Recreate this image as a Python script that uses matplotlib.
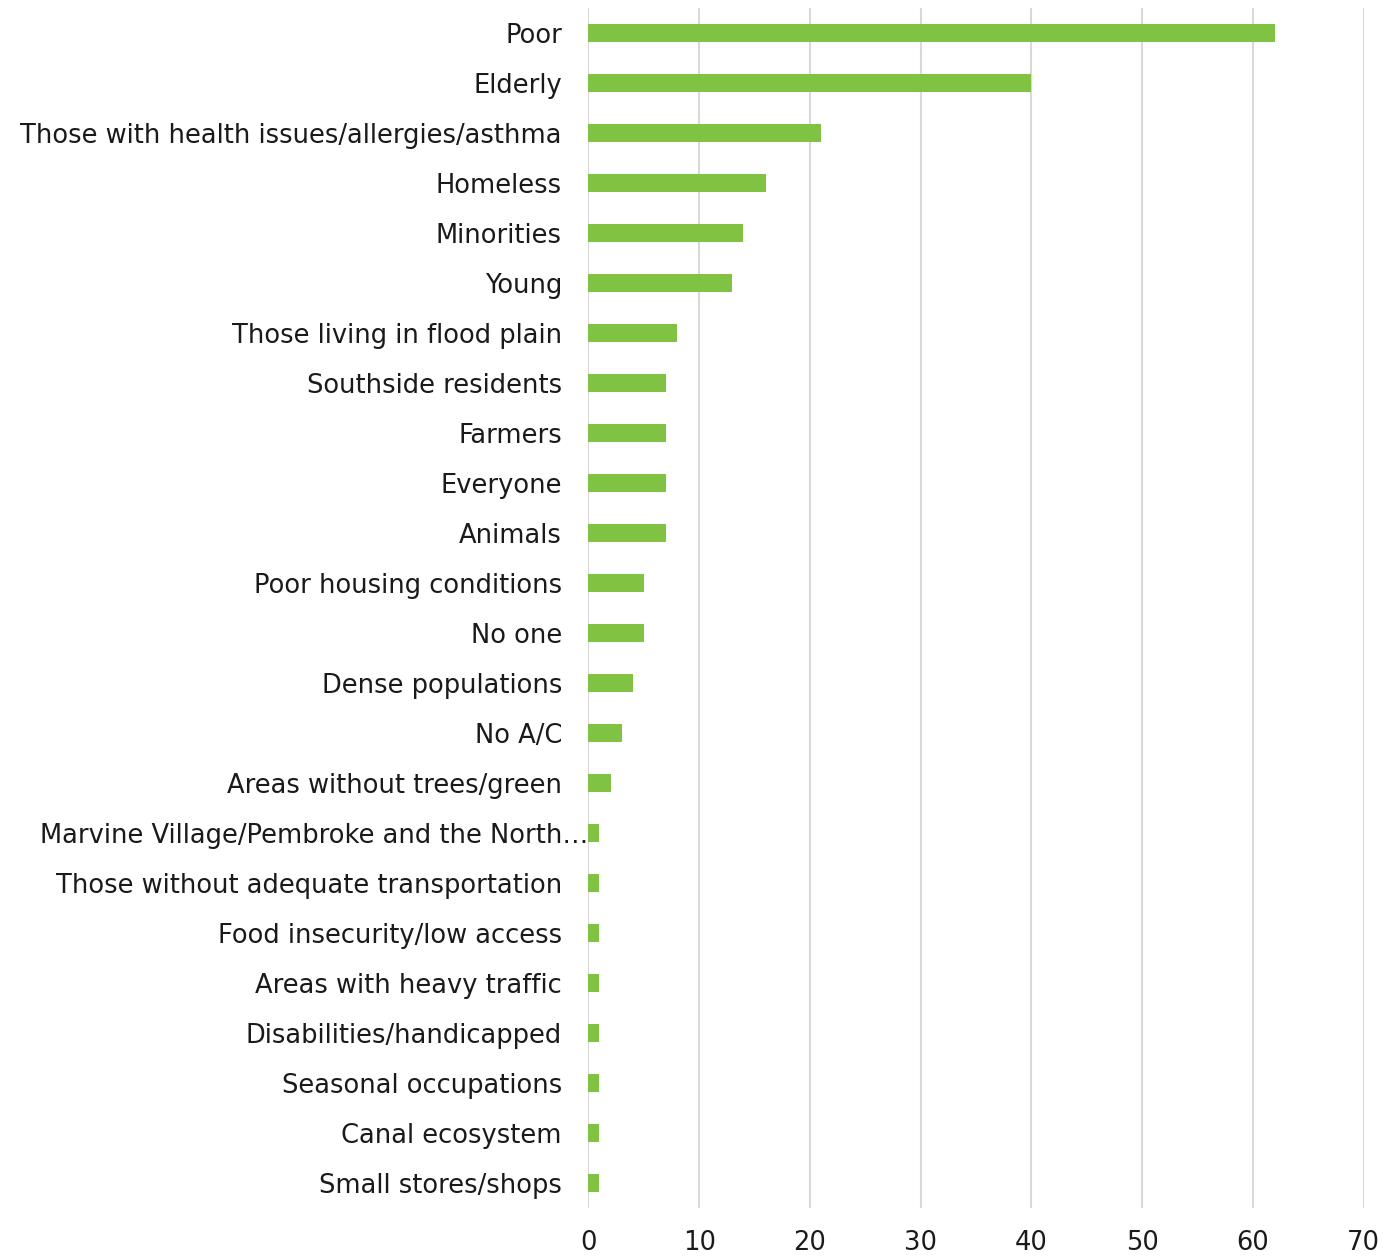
''' horizontal bar chart of who is most affected '''
import matplotlib.pyplot as plt

categories = ['Poor', 'Elderly', 'Those with health issues/allergies/asthma',
              'Homeless', 'Minorities', 'Young', 'Those living in flood plain',
              'Southside residents', 'Farmers', 'Everyone', 'Animals',
              'Poor housing conditions', 'No one', 'Dense populations',
              'No A/C', 'Areas without trees/green',
              'Marvine Village/Pembroke and the North\u2026',
              'Those without adequate transportation',
              'Food insecurity/low access', 'Areas with heavy traffic',
              'Disabilities/handicapped', 'Seasonal occupations',
              'Canal ecosystem', 'Small stores/shops']
counts = [62, 40, 21, 16, 14, 13, 8, 7, 7, 7, 7, 5, 5, 4, 3, 2,
          1, 1, 1, 1, 1, 1, 1, 1]
x_ticks = [0, 10, 20, 30, 40, 50, 60, 70]

plt.rcParams['font.family'] = ['DejaVu Sans']

fig = plt.figure(figsize=(13.86, 12.57), dpi=100)
ax = fig.add_axes([0.4245, 0.039, 0.5595, 0.955])

pos = list(range(len(categories)))
ax.barh(pos, counts, height=0.36, color='#80c342', zorder=3)

ax.set_ylim(len(categories) - 0.5, -0.5)
ax.set_xlim(0, 70)
ax.set_xticks(x_ticks)
ax.set_xticklabels([str(t) for t in x_ticks], fontsize=18.5, color='#1a1a1a')

# the long truncated label sits right up against the axis
ax.set_yticks(pos)
ax.set_yticklabels(['' if c.endswith('\u2026') else c for c in categories],
                   fontsize=18.5, color='#1a1a1a')
long_idx = [i for i, c in enumerate(categories) if c.endswith('\u2026')][0]
ax.text(-0.05, long_idx, categories[long_idx], ha='right',
        va='center_baseline', fontsize=18.5, color='#1a1a1a')

ax.tick_params(axis='both', length=0)
ax.tick_params(axis='y', pad=19)
ax.tick_params(axis='x', pad=16)
ax.grid(axis='x', color='#d9d9d9', linewidth=1.5, zorder=0)
for side in ['top', 'right', 'bottom', 'left']:
    ax.spines[side].set_visible(False)

fig.savefig('out.png', dpi=100)
